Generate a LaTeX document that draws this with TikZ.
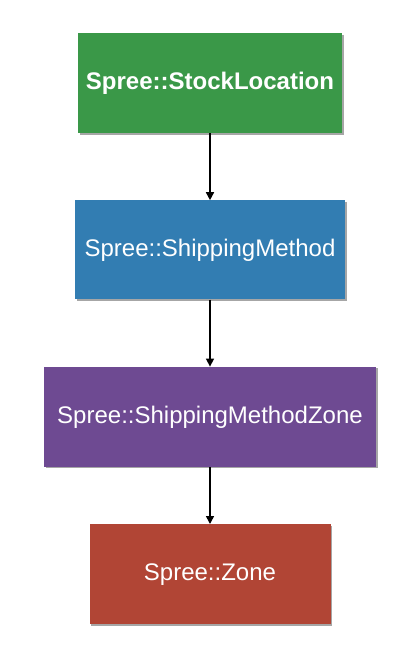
\documentclass[tikz,border=0pt]{standalone}
\usepackage{fontspec}
\setmainfont{Liberation Sans}
\usetikzlibrary{positioning,shadows,arrows.meta}
\definecolor{locGreen}{RGB}{58,152,72}
\definecolor{methBlue}{RGB}{50,125,178}
\definecolor{zonePurple}{RGB}{110,74,146}
\definecolor{zoneRed}{RGB}{177,69,53}
\tikzset{>={Triangle[length=8pt,width=8pt]}}
\tikzset{
  model/.style={rectangle, minimum height=100pt, text=white, inner sep=0pt,
    font=\fontsize{24}{28}\selectfont,
    drop shadow={shadow xshift=1.5pt, shadow yshift=-1.5pt, opacity=.35, fill=black}},
  link/.style={->, line width=1.5pt, black}
}
\begin{document}
\begin{tikzpicture}[x=1pt,y=1pt]
	\useasboundingbox (0,0) rectangle (420,-651);
	\node [model, fill=locGreen, minimum width=264pt, font=\fontsize{24}{28}\selectfont\bfseries] (stock) at (210,-83) {Spree::StockLocation};
	\node [model, fill=methBlue, minimum width=270pt, minimum height=99pt, below=67pt of stock] (method) {Spree::ShippingMethod};
	\node [model, fill=zonePurple, minimum width=332pt, below=67pt of method] (methzone) {Spree::ShippingMethodZone};
	\node [model, fill=zoneRed, minimum width=241pt, below=57pt of methzone] (zone) {Spree::Zone};% bottom box
	\draw [link] (stock) -- (method);
	\draw [link] (method) -- (methzone);
	\draw [link] (methzone) -- (zone);
\end{tikzpicture}
\end{document}
